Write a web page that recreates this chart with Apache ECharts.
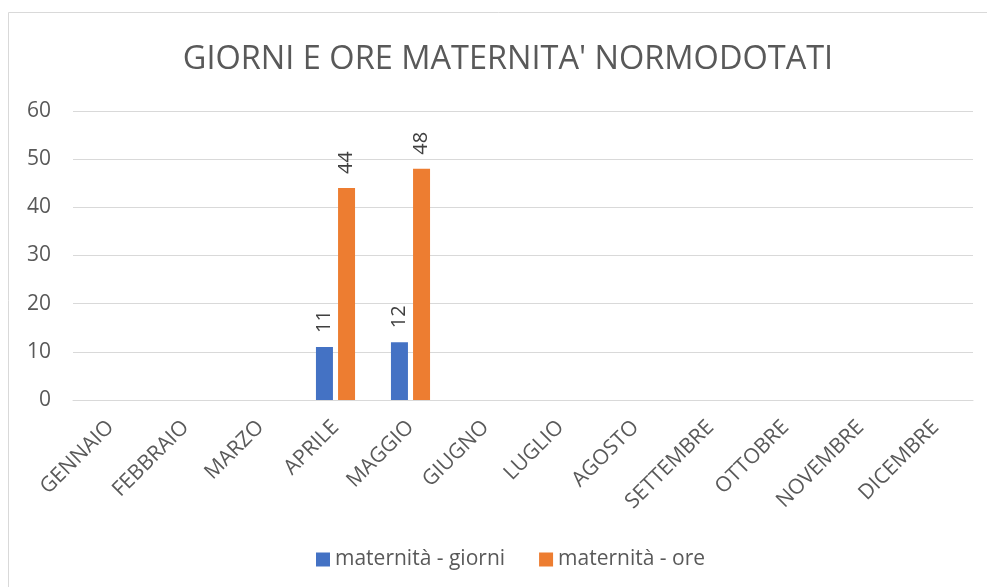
<!DOCTYPE html>
<html>
<head>
<meta charset="utf-8">
<script src="https://cdn.jsdelivr.net/npm/echarts@6/dist/echarts.min.js"></script>
<style>
html,body{margin:0;padding:0;background:#fff;}
#chart{width:987px;height:587px;}
</style>
</head>
<body>
<div id="chart"></div>
<script>
var mesi = ['GENNAIO','FEBBRAIO','MARZO','APRILE','MAGGIO','GIUGNO','LUGLIO','AGOSTO','SETTEMBRE','OTTOBRE','NOVEMBRE','DICEMBRE']
var giorni = [0,0,0,11,12,0,0,0,0,0,0,0]
var ore = [0,0,0,44,48,0,0,0,0,0,0,0]
var nomiSerie = ['maternità - giorni','maternità - ore']

var chart = echarts.init(document.getElementById('chart'))

function labelFmt(p){
    return p.value ? String(p.value) : ''
}

var option = {
    textStyle:{ fontFamily:'Open Sans' },
    title:{
        text:"GIORNI E ORE MATERNITA' NORMODOTATI",
        left:503,
        top:38,
        textAlign:'center',
        textStyle:{ fontSize:32.5, fontWeight:'normal', color:'#595959', fontFamily:'Open Sans' }
    },
    legend:{
        data:nomiSerie,
        bottom:12,
        left:311,
        itemWidth:14,
        itemHeight:14,
        itemGap:34,
        icon:'rect',
        textStyle:{ fontSize:21, color:'#595959' }
    },
    grid:{ left:73, right:14, top:111, bottom:187 },
    xAxis:{
        type:'category',
        data:mesi,
        axisLine:{ lineStyle:{ color:'#d9d9d9', width:1 } },
        axisTick:{ show:false },
        axisLabel:{ rotate:45, interval:0, fontSize:21, color:'#595959', margin:24 }
    },
    yAxis:{
        type:'value',
        min:0,
        max:60,
        interval:10,
        axisLine:{ show:false },
        axisTick:{ show:false },
        splitLine:{ lineStyle:{ color:'#d9d9d9', width:1 } },
        axisLabel:{ fontSize:21, color:'#595959', margin:22 }
    },
    series:[
        {
            name:nomiSerie[0],
            type:'bar',
            data:giorni,
            barWidth:17,
            barGap:'30%',
            itemStyle:{ color:'#4472C4' },
            label:{ show:true, position:'top', rotate:90, align:'left', verticalAlign:'middle', distance:14, fontSize:20, color:'#404040', formatter:labelFmt }
        },
        {
            name:nomiSerie[1],
            type:'bar',
            data:ore,
            barWidth:17,
            barGap:'30%',
            itemStyle:{ color:'#ED7D31' },
            label:{ show:true, position:'top', rotate:90, align:'left', verticalAlign:'middle', distance:14, fontSize:20, color:'#404040', formatter:labelFmt }
        }
    ],
    graphic:{
        elements:[
            {
                type:'rect',
                shape:{ x:8.5, y:12.5, width:1000, height:600 },
                style:{ fill:'none', stroke:'#d9d9d9', lineWidth:1 },
                silent:true
            }
        ]
    }
}
chart.setOption(option)
</script>
</body>
</html>
